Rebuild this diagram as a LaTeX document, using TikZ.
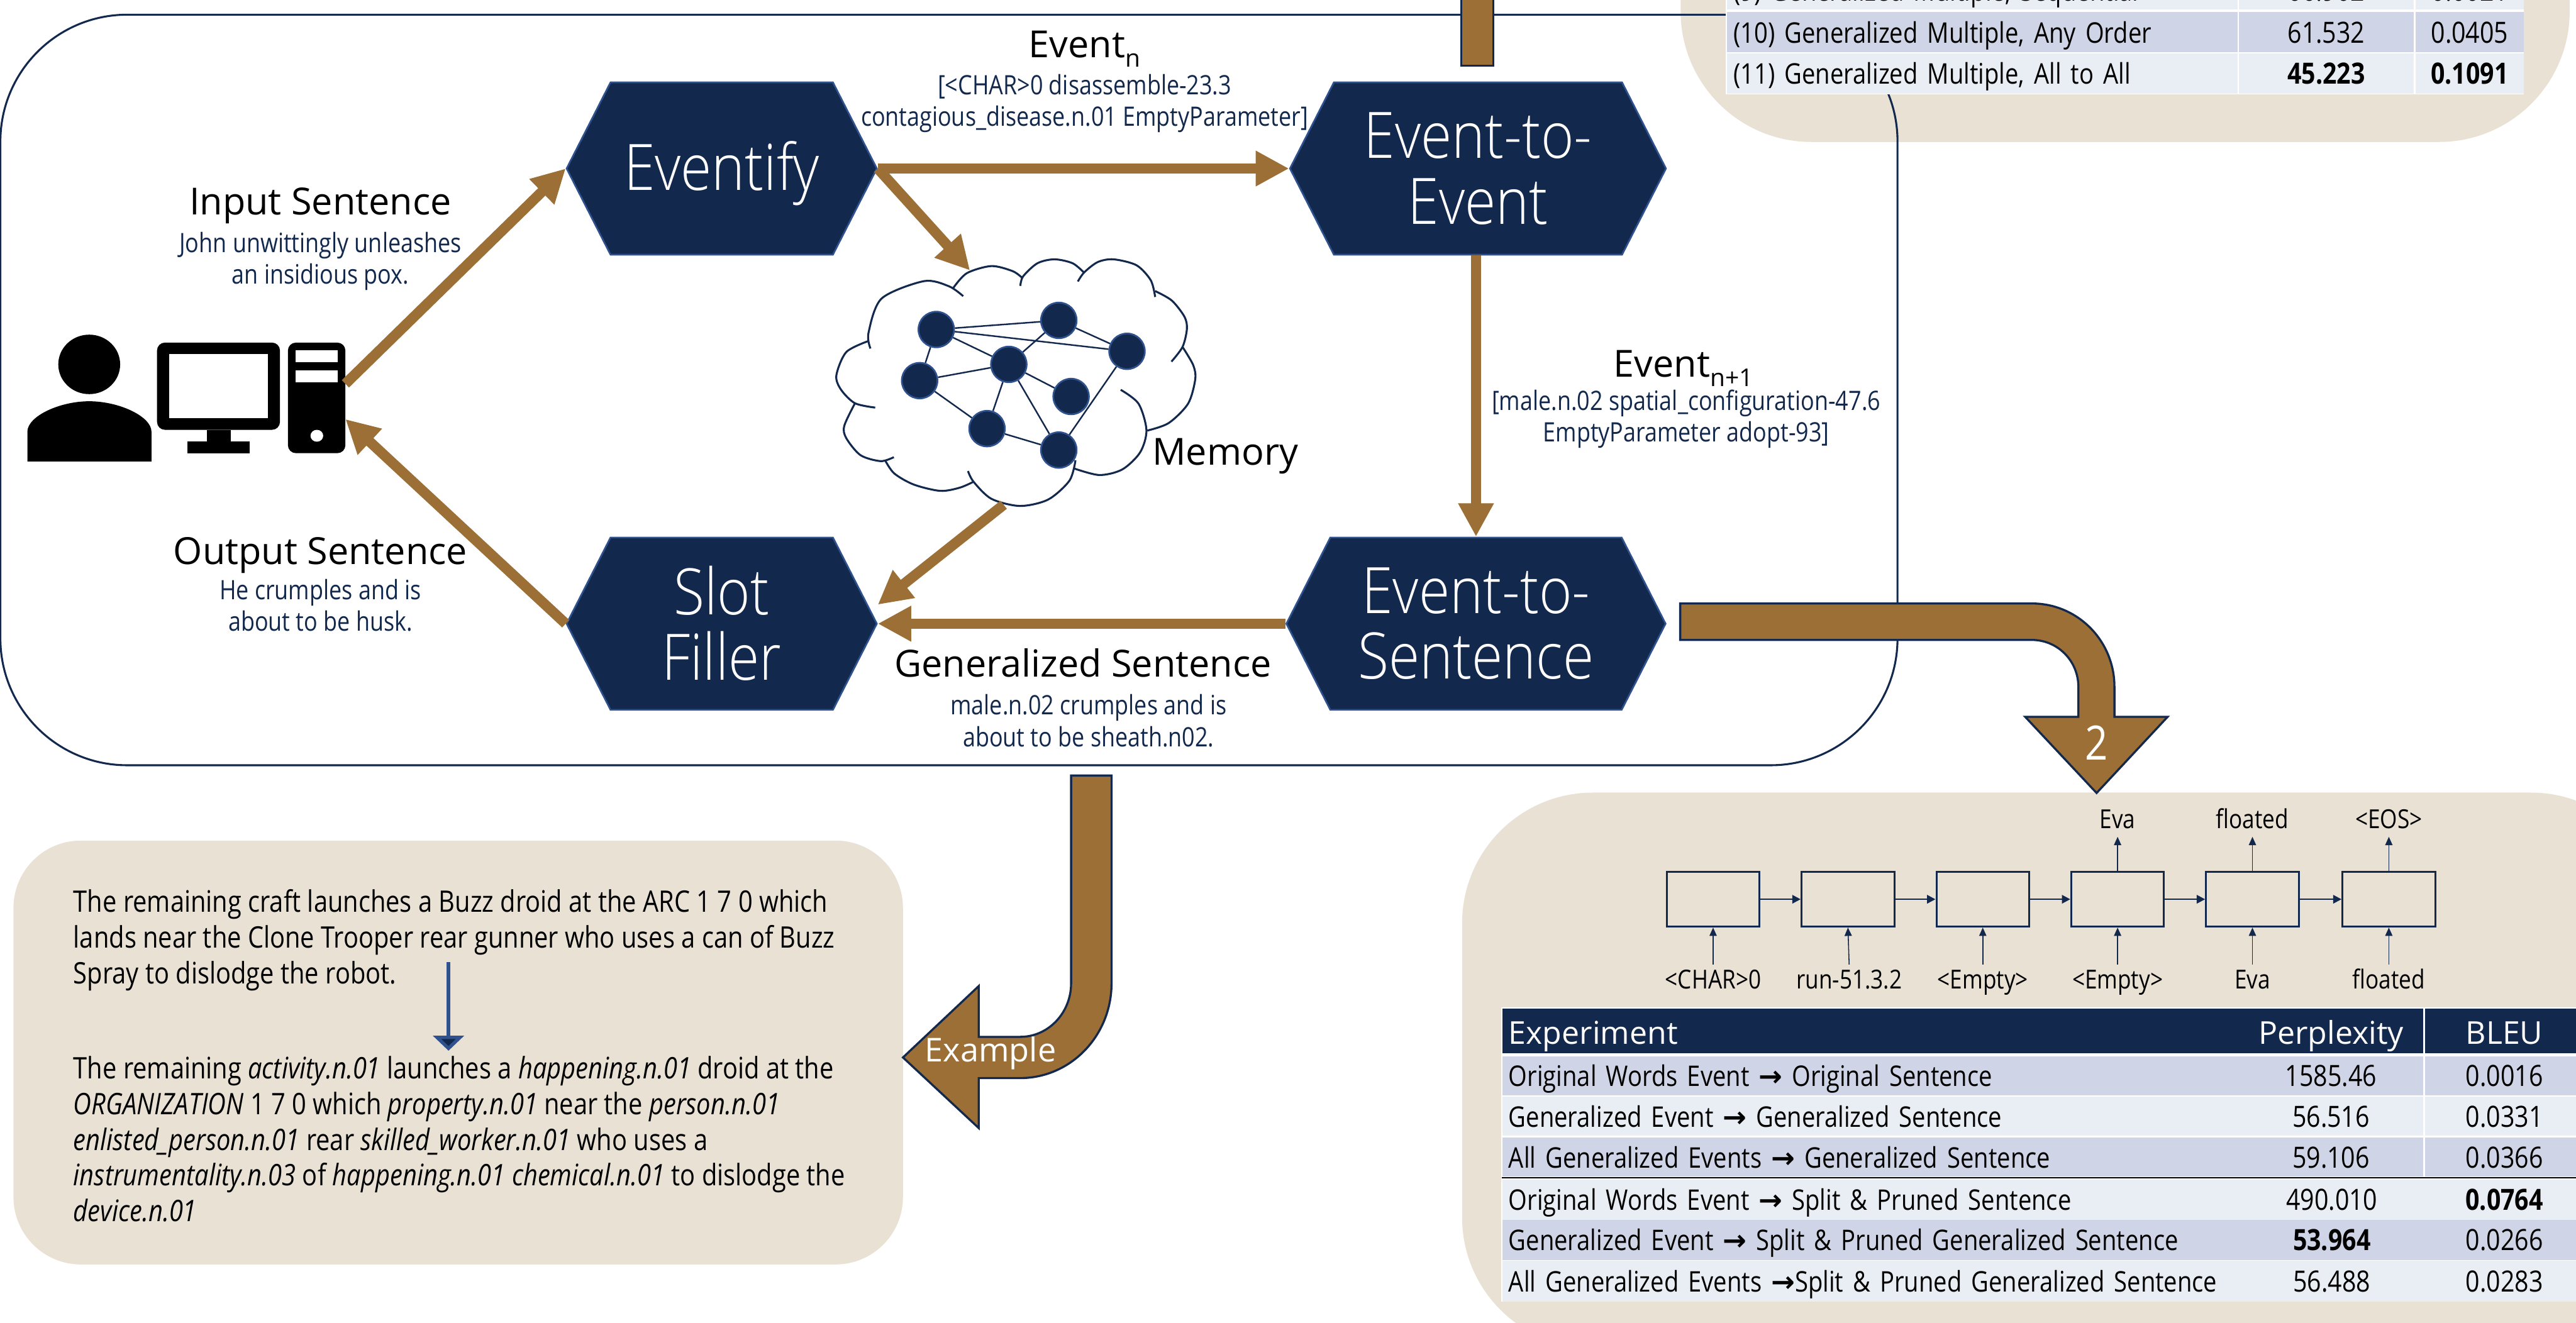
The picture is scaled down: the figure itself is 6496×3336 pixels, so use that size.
\documentclass[tikz,border=0pt]{standalone}
\usepackage{fontspec}
\setmainfont[FakeStretch=0.845]{Open Sans}
\newfontfamily\headfont{Open Sans}
\newfontfamily\lightfont[FakeStretch=0.88]{Open Sans Light}
\newfontfamily\arrowfont{DejaVu Sans}
\usetikzlibrary{arrows.meta,shapes.symbols}
\definecolor{navy}{HTML}{12284C}
\definecolor{edgeblue}{HTML}{2F528F}
\definecolor{bronze}{HTML}{9C6F36}
\definecolor{panelbeige}{HTML}{E9E1D4}
\definecolor{rowdark}{HTML}{CFD5E6}
\definecolor{rowlight}{HTML}{E9EDF4}
\newcommand{\toarrow}{{\arrowfont\bfseries →}}
\newcommand{\subtext}[1]{\raisebox{-3.4pt}{\fontsize{8.8}{9}\selectfont #1}}
\tikzset{
  hexnode/.style={signal, signal from=nowhere, signal to=east and west, signal pointer angle=126, fill=navy, draw=edgeblue, line width=0.6pt, text=white, inner sep=0pt, minimum height=2.175cm, align=center, font=\lightfont\fontsize{23}{23.6}\selectfont},
  headlabel/.style={font=\headfont\fontsize{13.4}{16}\selectfont, inner sep=0pt},
  sublabel/.style={font=\fontsize{9.6}{11.4}\selectfont, text=navy, align=center, inner sep=0pt},
  flowarrow/.style={bronze, line width=3.7pt, -{Triangle[length=12pt,width=12pt]}},
  memnode/.style={circle, fill=navy, draw=edgeblue, line width=0.6pt, minimum size=0.45cm, inner sep=0pt},
  memedge/.style={navy, line width=0.55pt},
  cloudarc/.style={navy, line width=0.7pt},
  bigarrow/.style={fill=bronze, draw=navy, line width=0.75pt},
  lstmbox/.style={draw=navy, line width=0.7pt, minimum width=1.17cm, minimum height=0.69cm, inner sep=0pt},
  lstmlabel/.style={font=\fontsize{9.4}{11}\selectfont, inner sep=0pt, text height=0.3cm, text depth=0.05cm},
  lstmflow/.style={navy, line width=0.6pt, -{Triangle[length=3pt,width=3pt]}},
  lstmup/.style={navy, line width=0.35pt, -{Triangle[length=3pt,width=2.6pt]}},
  cell/.style={inner ysep=0pt, anchor=north west, text height=0.37cm, text depth=0.1cm, font=\fontsize{10.5}{12}\selectfont},
  leftcell/.style={cell, inner xsep=0.08cm, align=left, font=\fontsize{10.2}{12}\selectfont},
  midcell/.style={cell, inner xsep=0pt, align=center},
  headcell/.style={fill=navy, text=white, minimum height=0.56cm, text height=0.42cm, text depth=0.09cm, font=\headfont\fontsize{11.3}{13}\selectfont},
  darkrow/.style={fill=rowdark, minimum height=0.49cm},
  lightrow/.style={fill=rowlight, minimum height=0.49cm},
  panelrow/.style={minimum height=0.51cm},
  paneltext/.style={anchor=north west, align=left, inner sep=0pt, font=\fontsize{10.65}{12.8}\selectfont},
}

\begin{document}
\begin{tikzpicture}[x=0.005cm,y=-0.005cm]
    \useasboundingbox (0,0) rectangle (6496,3336);
    \clip (0,0) rectangle (6496,3336);

    % panels behind everything
    \fill[panelbeige, rounded corners=1.65cm] (4238,-500) rectangle (6480,358);
    \fill[panelbeige, rounded corners=1.65cm] (3687,1999) rectangle (6712,3400);
    \fill[panelbeige, rounded corners=0.85cm] (34,2120) rectangle (2277,3189);
    \draw[navy, line width=0.7pt, rounded corners=1.6cm] (1,37) rectangle (4785,1930);

    % upper results table
    \fill[white] (4352,-100) rectangle (6365,238);
    \node[leftcell, lightrow, text width=6.28cm] (t9) at (4354,-75) {(9) Generalized Multiple, Sequential};
    \node[midcell, lightrow, minimum width=2.21cm] (t9p) at (5644,-75) {66.902};
    \node[midcell, lightrow, minimum width=1.365cm] (t9b) at (6090,-75) {0.0021};
    \node[leftcell, darkrow, text width=6.28cm, minimum height=0.51cm] (t10) at (4354,29) {(10) Generalized Multiple, Any Order};
    \node[midcell, darkrow, minimum width=2.21cm, minimum height=0.51cm] (t10p) at (5644,29) {61.532};
    \node[midcell, darkrow, minimum width=1.365cm, minimum height=0.51cm] (t10b) at (6090,29) {0.0405};
    \node[leftcell, lightrow, text width=6.28cm, minimum height=0.51cm] (t11) at (4354,133) {(11) Generalized Multiple, All to All};
    \node[midcell, lightrow, minimum width=2.21cm, minimum height=0.51cm] (t11p) at (5644,133) {\textbf{45.223}};
    \node[midcell, lightrow, minimum width=1.365cm, minimum height=0.51cm] (t11b) at (6090,133) {\textbf{0.1091}};

    % stub of the arrow coming from above
    \draw[bigarrow] (3685,-50) rectangle (3766,166);

    % agent loop
    \node[hexnode, minimum width=3.915cm] (eventify) at (1820,425) {\rule{0pt}{21pt}Eventify};
    \node[hexnode, minimum width=4.745cm] (e2e) at (3727,425) {Event-to-\\Event};
    \node[hexnode, minimum width=3.915cm] (filler) at (1820,1573) {Slot\\Filler\rule[-0.5pt]{0pt}{0.5pt}};
    \node[hexnode, minimum width=4.785cm] (e2s) at (3722,1573) {Event-to-\\Sentence};

    % user and computer
    \fill[black] (225,919) ellipse [x radius=78, y radius=75];
    \fill[black] (69,1164) -- (69,1089) .. controls (69,1050) and (150,1012) .. (225,1012) .. controls (300,1012) and (382,1050) .. (382,1089) -- (382,1164) -- cycle;
    \fill[black, rounded corners=0.1cm] (396,864) rectangle (706,1084);
    \fill[white] (426,893) rectangle (676,1054);
    \fill[black] (521,1084) rectangle (582,1113);
    \fill[black] (473,1113) rectangle (629,1143);
    \node[fill=black, rounded corners=0.1cm, minimum width=0.725cm, minimum height=1.395cm, inner sep=0pt] (tower) at (798.5,1003.5) {};
    \fill[white] (746,884) rectangle (851,914);
    \fill[white] (746,934) rectangle (851,964);
    \fill[white] (799,1099) ellipse [x radius=16, y radius=15];
    \coordinate (towerout) at (871,968);
    \coordinate (towerin) at (871,1057);

    % memory cloud
    \draw[cloudarc] plot[smooth] coordinates {(2195,879) (2190,840) (2223,753) (2330,709) (2393,722) (2429,747)};
    \draw[cloudarc] plot[smooth] coordinates {(2404,726) (2438,689) (2500,671) (2554,684) (2579,702)};
    \draw[cloudarc] plot[smooth] coordinates {(2573,721) (2580,697) (2616,664) (2659,654) (2705,664) (2734,688)};
    \draw[cloudarc] plot[smooth] coordinates {(2718,710) (2734,687) (2768,661) (2808,654) (2866,669) (2902,707) (2913,749)};
    \draw[cloudarc] plot[smooth] coordinates {(2913,734) (2955,758) (2987,799) (2993,830) (2982,875) (2954,912)};
    \draw[cloudarc] plot[smooth] coordinates {(2982,875) (3009,921) (3014,957) (2996,1018) (2947,1067) (2893,1086)};
    \draw[cloudarc] plot[smooth] coordinates {(2826,983) (2871,1018) (2891,1085) (2875,1141) (2830,1184) (2772,1198) (2707,1181)};
    \draw[cloudarc] plot[smooth] coordinates {(2712,1161) (2697,1212) (2643,1260) (2572,1276) (2500,1258) (2455,1215) (2441,1188)};
    \draw[cloudarc] plot[smooth] coordinates {(2455,1215) (2420,1230) (2371,1238) (2304,1222) (2255,1194) (2232,1161)};
    \draw[cloudarc] plot[smooth] coordinates {(2254,1153) (2221,1163) (2170,1148) (2134,1105) (2129,1074) (2156,1017)};
    \draw[cloudarc] plot[smooth] coordinates {(2207,1028) (2156,1017) (2121,983) (2109,947) (2134,888) (2190,860)};

    \node[memnode] (m1) at (2361,831) {};
    \node[memnode] (m2) at (2670,808) {};
    \node[memnode] (m3) at (2842,886) {};
    \node[memnode] (m4) at (2544,919) {};
    \node[memnode] (m5) at (2319,960) {};
    \node[memnode] (m6) at (2701,1000) {};
    \node[memnode] (m7) at (2489,1081) {};
    \node[memnode] (m8) at (2670,1135) {};
    \draw[memedge] (m1) -- (m2);
    \draw[memedge] (m1) -- (m3);
    \draw[memedge] (m1) -- (m4);
    \draw[memedge] (m1) -- (m5);
    \draw[memedge] (m2) -- (m3);
    \draw[memedge] (m2) -- (m4);
    \draw[memedge] (m4) -- (m5);
    \draw[memedge] (m4) -- (m6);
    \draw[memedge] (m4) -- (m7);
    \draw[memedge] (m4) -- (m8);
    \draw[memedge] (m5) -- (m7);
    \draw[memedge] (m7) -- (m8);
    \draw[memedge] (m3) -- (m8);
    \coordinate (cloudin) at (2446,682);
    \coordinate (cloudout) at (2531,1273);

    \draw[flowarrow] (towerout) -- (eventify.west);
    \draw[flowarrow] (eventify.east) -- (e2e.west);
    \draw[flowarrow] (eventify.east) -- (cloudin);
    \draw[flowarrow] (e2e.south -| e2s.north) -- (e2s.north);
    \draw[flowarrow] (e2s.west) -- (filler.east);
    \draw[flowarrow] (cloudout) -- ([yshift=0.24cm]filler.east);
    \draw[flowarrow] (filler.west) -- (towerin);

    % labels in the loop
    \node[headlabel] (memlabel) at (3090,1151) {Memory};
    \node[headlabel] (inlabel) at (808,518) {Input Sentence};
    \node[sublabel] (insub) at (808,659) {John unwittingly unleashes\\an insidious pox.};
    \node[headlabel] (outlabel) at (808,1400) {Output Sentence};
    \node[sublabel] (outsub) at (808,1527) {He crumples and is\\about to be husk.};
    \node[headlabel] (evlabel) at (2735,124) {Event\subtext{n}};
    \node[sublabel] (evsub) at (2735,261) {[<CHAR>0 disassemble-23.3\\contagious\_disease.n.01 EmptyParameter]};
    \node[headlabel] (nextlabel) at (4245,929) {Event\subtext{n+1}};
    \node[sublabel] (nextsub) at (4252,1057) {[male.n.02 spatial\_configuration-47.6\\EmptyParameter adopt-93]};
    \node[headlabel] (genlabel) at (2731,1672) {Generalized Sentence};
    \node[sublabel] (gensub) at (2745,1818) {male.n.02 crumples and is\\about to be sheath.n02.};

    % example arrow and panel
    \draw[bigarrow] (2701,1956) -- (2803,1956) -- (2803,2480) .. controls (2803,2612) and (2700,2719) .. (2573,2719) -- (2468,2719) -- (2468,2845) -- (2277,2667) -- (2468,2487) -- (2468,2615) -- (2573,2615) .. controls (2643,2615) and (2701,2555) .. (2701,2480) -- cycle;
    \node[text=white, font=\headfont\fontsize{11.8}{13}\selectfont, inner sep=0pt] (examplelabel) at (2498,2656) {Example};

    \node[paneltext] (source) at (184,2242) {The remaining craft launches a Buzz droid at the ARC 1 7 0 which\\lands near the Clone Trooper rear gunner who uses a can of Buzz\\Spray to dislodge the robot.};
    \node[paneltext] (generalized) at (184,2663) {The remaining \textit{activity.n.01} launches a \textit{happening.n.01} droid at the\\\textit{ORGANIZATION} 1 7 0 which \textit{property.n.01} near the \textit{person.n.01}\\\textit{enlisted\_person.n.01} rear \textit{skilled\_worker.n.01} who uses a\\\textit{instrumentality.n.03} of \textit{happening.n.01 chemical.n.01} to dislodge the\\\textit{device.n.01}};
    \coordinate (sourceout) at (1131,2427);
    \coordinate (genin) at (1131,2650);
    \draw[edgeblue, line width=1.2pt, -{Triangle[length=5.4pt,width=11pt,fill=navy]}] (sourceout) -- (genin);

    % arrow to the decoder panel
    \draw[bigarrow] (4237,1522) -- (5124,1522) .. controls (5239,1522) and (5332,1616) .. (5332,1732) -- (5332,1808) -- (5466,1808) -- (5287,2000) -- (5107,1808) -- (5241,1808) -- (5241,1732) .. controls (5241,1667) and (5189,1614) .. (5124,1614) -- (4237,1614) -- cycle;
    \node[text=white, font=\fontsize{17}{18}\selectfont, inner sep=0pt] (panelnumber) at (5287,1873) {2};

    % decoder boxes
    \node[lstmbox] (box1) at (4320,2268) {};
    \node[lstmbox] (box2) at (4660,2268) {};
    \node[lstmbox] (box3) at (5000,2268) {};
    \node[lstmbox] (box4) at (5340,2268) {};
    \node[lstmbox] (box5) at (5680,2268) {};
    \node[lstmbox] (box6) at (6024,2268) {};
    \draw[lstmflow] (box1) -- (box2);
    \draw[lstmflow] (box2) -- (box3);
    \draw[lstmflow] (box3) -- (box4);
    \draw[lstmflow] (box4) -- (box5);
    \draw[lstmflow] (box5) -- (box6);

    \node[lstmlabel] (in1) at (4320,2469) {<CHAR>0};
    \node[lstmlabel] (in2) at (4663,2469) {run-51.3.2};
    \node[lstmlabel] (in3) at (5000,2469) {<Empty>};
    \node[lstmlabel] (in4) at (5340,2469) {<Empty>};
    \node[lstmlabel] (in5) at (5680,2469) {Eva};
    \node[lstmlabel] (in6) at (6024,2469) {floated};
    \node[lstmlabel] (out4) at (5340,2065) {Eva};
    \node[lstmlabel] (out5) at (5680,2065) {floated};
    \node[lstmlabel] (out6) at (6024,2065) {<EOS>};
    \draw[lstmup] (in1) -- (box1);
    \draw[lstmup] (in2.north) -- (box2.south);
    \draw[lstmup] (in3) -- (box3);
    \draw[lstmup] (in4) -- (box4);
    \draw[lstmup] (in5) -- (box5);
    \draw[lstmup] (in6) -- (box6);
    \draw[lstmup, shorten >=1.3pt] (box4) -- (out4);
    \draw[lstmup, shorten >=1.3pt] (box5) -- (out5);
    \draw[lstmup, shorten >=1.3pt] (box6) -- (out6);

    % lower results table
    \fill[white] (3785,2541) rectangle (6496,3283);
    \node[leftcell, headcell, text width=9.135cm] (bh) at (3787,2543) {Experiment};
    \node[midcell, headcell, minimum width=2.33cm] (bhp) at (5644,2543) {Perplexity};
    \node[midcell, headcell, minimum width=2cm] (bhb) at (6114,2543) {BLEU};
    \node[leftcell, darkrow, text width=9.135cm] (b1) at (3787,2663) {Original Words Event \toarrow{} Original Sentence};
    \node[midcell, darkrow, minimum width=2.33cm] (b1p) at (5644,2663) {1585.46};
    \node[midcell, darkrow, minimum width=2cm] (b1b) at (6114,2663) {0.0016};
    \node[leftcell, lightrow, text width=9.135cm] (b2) at (3787,2765) {Generalized Event \toarrow{} Generalized Sentence};
    \node[midcell, lightrow, minimum width=2.33cm] (b2p) at (5644,2765) {56.516};
    \node[midcell, lightrow, minimum width=2cm] (b2b) at (6114,2765) {0.0331};
    \node[leftcell, darkrow, text width=9.135cm] (b3) at (3787,2868) {All Generalized Events \toarrow{} Generalized Sentence};
    \node[midcell, darkrow, minimum width=2.33cm] (b3p) at (5644,2868) {59.106};
    \node[midcell, darkrow, minimum width=2cm] (b3b) at (6114,2868) {0.0366};
    \node[leftcell, lightrow, panelrow, text width=9.135cm] (b4) at (3787,2973) {Original Words Event \toarrow{} Split \& Pruned Sentence};
    \node[midcell, lightrow, panelrow, minimum width=2.35cm] (b4p) at (5644,2973) {490.010};
    \node[midcell, lightrow, panelrow, minimum width=2.02cm] (b4b) at (6112,2973) {\textbf{0.0764}};
    \node[leftcell, darkrow, panelrow, text width=9.135cm] (b5) at (3787,3075) {Generalized Event \toarrow{} Split \& Pruned Generalized Sentence};
    \node[midcell, darkrow, panelrow, minimum width=2.35cm] (b5p) at (5644,3075) {\textbf{53.964}};
    \node[midcell, darkrow, panelrow, minimum width=2.02cm] (b5b) at (6112,3075) {0.0266};
    \node[leftcell, lightrow, panelrow, text width=9.135cm] (b6) at (3787,3179) {\mbox{All Generalized Events \toarrow{}Split \& Pruned Generalized Sentence}};
    \node[midcell, lightrow, panelrow, minimum width=2.35cm] (b6p) at (5644,3179) {56.488};
    \node[midcell, lightrow, panelrow, minimum width=2.02cm] (b6b) at (6112,3179) {0.0283};
    \draw[black, line width=0.5pt] (3787,2971) -- (6496,2971);
\end{tikzpicture}
\end{document}
